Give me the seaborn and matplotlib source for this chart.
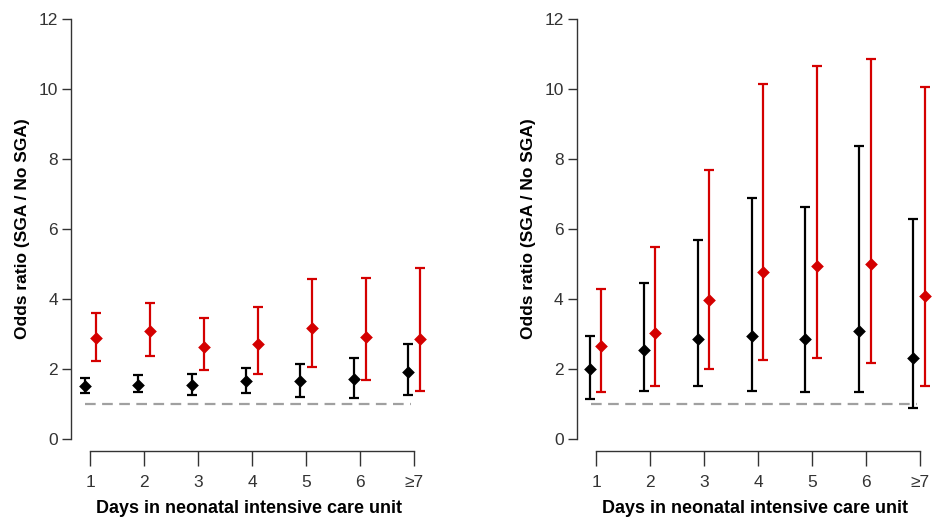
import numpy as np
import pandas as pd
import matplotlib
matplotlib.use('Agg')
import matplotlib.pyplot as plt
import seaborn as sns

# x categories
days = [1, 2, 3, 4, 5, 6, 7]
day_labels = ['1', '2', '3', '4', '5', '6', '≥7']

# left panel
left_black_or = [1.52, 1.55, 1.55, 1.66, 1.66, 1.70, 1.91]
left_black_lo = [1.31, 1.34, 1.27, 1.30, 1.20, 1.18, 1.27]
left_black_hi = [1.74, 1.82, 1.86, 2.04, 2.14, 2.31, 2.72]
left_red_or = [2.87, 3.07, 2.63, 2.72, 3.17, 2.92, 2.86]
left_red_lo = [2.24, 2.37, 1.97, 1.85, 2.06, 1.69, 1.38]
left_red_hi = [3.60, 3.87, 3.46, 3.77, 4.57, 4.60, 4.89]

# right panel
right_black_or = [2.00, 2.55, 2.86, 2.93, 2.84, 3.07, 2.32]
right_black_lo = [1.13, 1.38, 1.52, 1.38, 1.33, 1.33, 0.89]
right_black_hi = [2.94, 4.45, 5.67, 6.89, 6.63, 8.35, 6.29]
right_red_or = [2.65, 3.03, 3.98, 4.78, 4.95, 5.00, 4.07]
right_red_lo = [1.33, 1.52, 2.01, 2.25, 2.31, 2.17, 1.50]
right_red_hi = [4.29, 5.49, 7.67, 10.14, 10.64, 10.84, 10.05]

sns.set_style('ticks')
plt.rcParams['font.family'] = ['Liberation Sans', 'DejaVu Sans']

BLACK = '#000000'
RED = '#d40000'
TXT = '#333333'


def draw_series(ax, shift, odds, lo, hi, color):
    xs = np.array(days) + shift
    odds = np.array(odds)
    yerr = [odds - np.array(lo), np.array(hi) - odds]
    ax.errorbar(xs, odds, yerr=yerr, fmt='none', ecolor=color,
                elinewidth=1.6, capsize=3.5, capthick=1.6, zorder=3)
    df = pd.DataFrame({'x': xs, 'y': odds})
    sns.scatterplot(data=df, x='x', y='y', ax=ax, marker='D', s=42,
                    color=color, edgecolor=color, linewidth=0, zorder=4)


def style_panel(ax):
    ax.plot([0.9, 6.95], [1, 1], color='#a0a0a0', lw=1.6,
            dashes=(4.8, 2.9), zorder=2)
    ax.set_xlim(0.64, 7.25)
    ax.set_ylim(0, 12)
    ax.set_yticks([0, 2, 4, 6, 8, 10, 12])
    ax.set_xticks(days)
    ax.set_xticklabels(day_labels)
    sns.despine(ax=ax)
    ax.spines['left'].set_bounds(0, 12)
    ax.spines['bottom'].set_bounds(1, 7)
    ax.spines['bottom'].set_position(('outward', 8.5))
    for s in ('left', 'bottom'):
        ax.spines[s].set_color(TXT)
        ax.spines[s].set_linewidth(1.0)
    ax.tick_params(axis='y', labelsize=12.5, colors=TXT, length=6.5,
                   width=1.0, labelcolor=TXT, pad=3)
    ax.tick_params(axis='x', labelsize=12.5, colors=TXT, length=10.5,
                   width=1.0, labelcolor=TXT, pad=7)
    ax.set_xlabel('Days in neonatal intensive care unit', fontsize=13,
                  fontweight='bold', color='black', labelpad=7)
    ax.set_ylabel('Odds ratio (SGA / No SGA)', fontsize=12.5,
                  fontweight='bold', color='black', labelpad=6)


fig = plt.figure(figsize=(9.37, 5.29), dpi=100)
ax1 = fig.add_axes([0.0758, 0.1701, 0.3806, 0.7949])
ax2 = fig.add_axes([0.6155, 0.1701, 0.3806, 0.7949])

draw_series(ax1, -0.11, left_black_or, left_black_lo, left_black_hi, BLACK)
draw_series(ax1, 0.10, left_red_or, left_red_lo, left_red_hi, RED)
draw_series(ax2, -0.12, right_black_or, right_black_lo, right_black_hi, BLACK)
draw_series(ax2, 0.09, right_red_or, right_red_lo, right_red_hi, RED)

style_panel(ax1)
style_panel(ax2)

fig.savefig('out.png', dpi=100)
